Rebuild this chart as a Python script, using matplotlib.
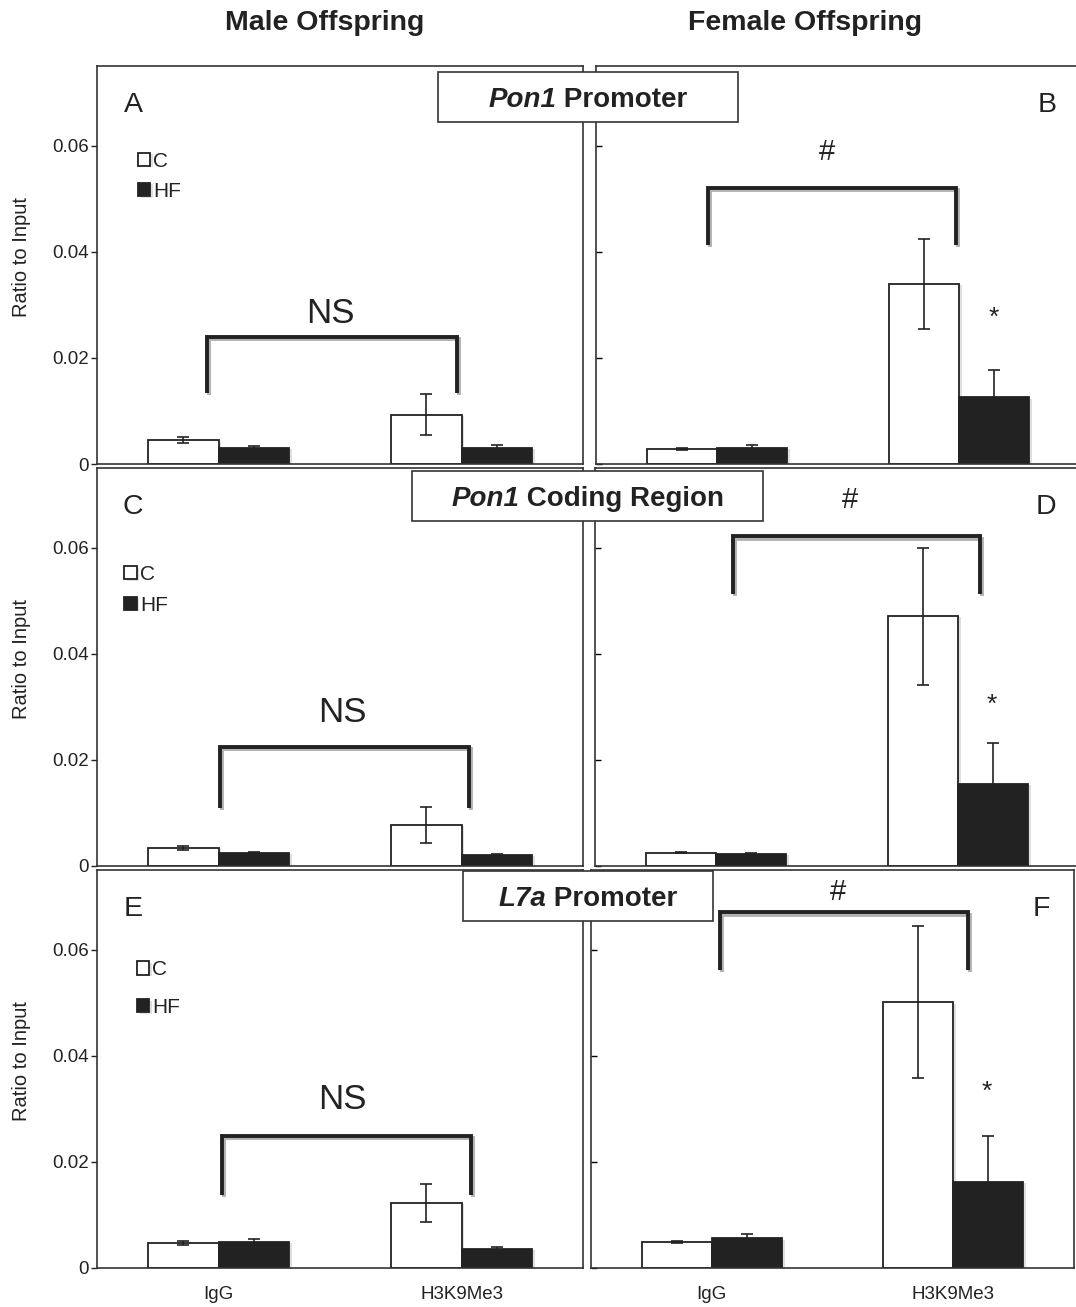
import matplotlib.pyplot as plt
import matplotlib.patheffects as pe
from matplotlib.patches import Rectangle

plt.rcParams['font.family'] = ['Liberation Sans', 'DejaVu Sans']

W, H = 1076, 1307
INK = '#222222'

groups = ['IgG', 'H3K9Me3']
series = ['C', 'HF']

# ratio to input, [IgG, H3K9Me3], mean and error for each diet group
a_c, a_c_err = [0.0045, 0.0093], [0.0005, 0.0038]
a_hf, a_hf_err = [0.0031, 0.0031], [0.0003, 0.0005]
b_c, b_c_err = [0.0028, 0.0339], [0.0002, 0.0085]
b_hf, b_hf_err = [0.0031, 0.0126], [0.0005, 0.0052]
c_c, c_c_err = [0.0034, 0.0078], [0.0003, 0.0034]
c_hf, c_hf_err = [0.0025, 0.0021], [0.0002, 0.0002]
d_c, d_c_err = [0.0025, 0.0471], [0.0001, 0.0129]
d_hf, d_hf_err = [0.0023, 0.0155], [0.0002, 0.0076]
e_c, e_c_err = [0.0047, 0.0123], [0.0004, 0.0036]
e_hf, e_hf_err = [0.0049, 0.0036], [0.0005, 0.0003]
f_c, f_c_err = [0.0049, 0.0501], [0.0001, 0.0143]
f_hf, f_hf_err = [0.0056, 0.0163], [0.0009, 0.0086]

# significance brackets: (x left, x right, y arm end, y top), label, label pos
brackets = {
    'A': ((-0.047, 0.981, 0.0134, 0.0240), 'NS', (0.459, 0.0283)),
    'B': ((-0.037, 0.988, 0.0413, 0.0521), '#', (0.453, 0.0587)),
    'C': ((0.006, 1.031, 0.0110, 0.0225), 'NS', (0.508, 0.0290)),
    'D': ((0.070, 1.091, 0.0513, 0.0621), '#', (0.554, 0.0689)),
    'E': ((0.014, 1.039, 0.0138, 0.0249), 'NS', (0.508, 0.0317)),
    'F': ((0.035, 1.060, 0.0562, 0.0670), '#', (0.524, 0.0708)),
}
stars = {'B': (1.145, 0.0275), 'D': (1.140, 0.0303), 'F': (1.138, 0.0331)}

region_titles = [('Pon1', 'Promoter'), ('Pon1', 'Coding Region'), ('L7a', 'Promoter')]
columns = ['Male Offspring', 'Female Offspring']


def px_rect(x0, top, x1, bottom):
    return [x0 / W, 1 - bottom / H, (x1 - x0) / W, (bottom - top) / H]


def draw_panel(ax, letter, c, c_err, hf, hf_err, left_col, bottom_row, legend_at=None):
    width = 0.29
    pos = [0, 1]
    shadow = [pe.SimplePatchShadow(offset=(2, -1), shadow_rgbFace='0.5', alpha=0.25), pe.Normal()]
    bc = ax.bar([p - width / 2 for p in pos], c, width, color='white', edgecolor=INK,
                linewidth=1.3, zorder=2)
    bh = ax.bar([p + width / 2 for p in pos], hf, width, color=INK, edgecolor=INK,
                linewidth=1.3, zorder=2)
    for b in list(bc) + list(bh):
        b.set_path_effects(shadow)
    ax.errorbar([p - width / 2 for p in pos], c, yerr=c_err, fmt='none', ecolor=INK,
                elinewidth=1.2, capsize=4, capthick=1.2, zorder=3)
    ax.errorbar([p + width / 2 for p in pos], hf, yerr=hf_err, fmt='none', ecolor=INK,
                elinewidth=1.2, capsize=4, capthick=1.2, zorder=3)

    ax.set_xlim(-0.5, 1.5)
    ax.set_ylim(0, 0.075)
    ax.set_yticks([0, 0.02, 0.04, 0.06])
    ax.set_xticks(pos)
    for s in ax.spines.values():
        s.set_color('#333333')
        s.set_linewidth(1.2)

    if left_col:
        ax.set_yticklabels(['0', '0.02', '0.04', '0.06'])
        ax.tick_params(axis='y', direction='out', length=4, width=1, pad=2,
                       labelsize=13.5, colors=INK)
        ax.set_ylabel('Ratio to Input', fontsize=14.5, color=INK)
        ax.yaxis.set_label_coords(-0.135, 0.52)
    else:
        ax.tick_params(axis='y', direction='in', length=4, width=1, labelleft=False)
    if bottom_row:
        ax.set_xticklabels(groups)
        ax.tick_params(axis='x', length=0, pad=13, labelsize=13.5, colors=INK)
    else:
        ax.tick_params(axis='x', length=0, labelbottom=False)

    (x0, x1, yb, yt), lab, (lx, ly) = brackets[letter]
    ax.plot([x0, x0, x1, x1], [yb, yt, yt, yb], color=INK, linewidth=2.8,
            solid_joinstyle='miter', solid_capstyle='butt', zorder=4,
            path_effects=[pe.SimpleLineShadow(offset=(1.5, -1.5), alpha=0.3), pe.Normal()])
    ax.text(lx, ly, lab, fontsize=25 if lab == 'NS' else 21, ha='center', va='center', color=INK)
    if letter in stars:
        sx, sy = stars[letter]
        ax.text(sx, sy, '*', fontsize=19, ha='center', va='center', color=INK)

    lx_ax = 0.074 if left_col else 0.932
    ax.text(lx_ax, 0.903, letter, transform=ax.transAxes, fontsize=20.5,
            ha='center', va='center', color=INK)

    if legend_at is not None:
        bx, by, spacing = legend_at
        ax.legend([bc, bh], series, loc='upper left', bbox_to_anchor=(bx, by),
                  frameon=False, fontsize=15, handlelength=0.6, handleheight=0.6,
                  handletextpad=0.15, labelspacing=spacing, borderpad=0,
                  borderaxespad=0, labelcolor=INK)


def box_title(fig, box, gene, rest, size=20):
    x0, y0, x1, y1 = box
    fig.add_artist(Rectangle((x0 / W, 1 - y1 / H), (x1 - x0) / W, (y1 - y0) / H,
                             transform=fig.transFigure, facecolor='white',
                             edgecolor='#333333', linewidth=1.2, zorder=5))
    cx = (x0 + x1) / 2
    base = 1 - ((y0 + y1) / 2 + 10) / H
    t1 = fig.text(cx / W, base, gene, fontsize=size, fontweight='bold', fontstyle='italic',
                  ha='left', va='baseline', color=INK, zorder=6)
    t2 = fig.text(cx / W, base, ' ' + rest, fontsize=size, fontweight='bold',
                  ha='left', va='baseline', color=INK, zorder=6)
    r = fig.canvas.get_renderer()
    w1 = t1.get_window_extent(r).width
    w2 = t2.get_window_extent(r).width
    left = cx - (w1 + w2) / 2
    t1.set_x(left / W)
    t2.set_x((left + w1) / W)


fig = plt.figure(figsize=(W / 100, H / 100), dpi=100)

ax_a = fig.add_axes(px_rect(97, 66, 583, 464))
ax_b = fig.add_axes(px_rect(596, 66, 1080, 464))
ax_c = fig.add_axes(px_rect(97, 468, 583, 866))
ax_d = fig.add_axes(px_rect(595, 468, 1079, 866))
ax_e = fig.add_axes(px_rect(97, 870, 583, 1268))
ax_f = fig.add_axes(px_rect(591, 870, 1074, 1268))

draw_panel(ax_a, 'A', a_c, a_c_err, a_hf, a_hf_err, True, False, (0.084, 0.785, 0.55))
draw_panel(ax_b, 'B', b_c, b_c_err, b_hf, b_hf_err, False, False)
draw_panel(ax_c, 'C', c_c, c_c_err, c_hf, c_hf_err, True, False, (0.056, 0.756, 0.55))
draw_panel(ax_d, 'D', d_c, d_c_err, d_hf, d_hf_err, False, False)
draw_panel(ax_e, 'E', e_c, e_c_err, e_hf, e_hf_err, True, True, (0.082, 0.773, 0.9))
draw_panel(ax_f, 'F', f_c, f_c_err, f_hf, f_hf_err, False, True)

title_boxes = [(438, 72, 738, 122), (412, 471, 763, 521), (463, 871, 713, 921)]
for box, (gene, rest) in zip(title_boxes, region_titles):
    box_title(fig, box, gene, rest)

fig.text(325 / W, 1 - 23 / H, columns[0], fontsize=20.5, fontweight='bold',
         ha='center', va='center', color=INK)
fig.text(805 / W, 1 - 23 / H, columns[1], fontsize=20.5, fontweight='bold',
         ha='center', va='center', color=INK)

fig.savefig('out.png', dpi=100)
